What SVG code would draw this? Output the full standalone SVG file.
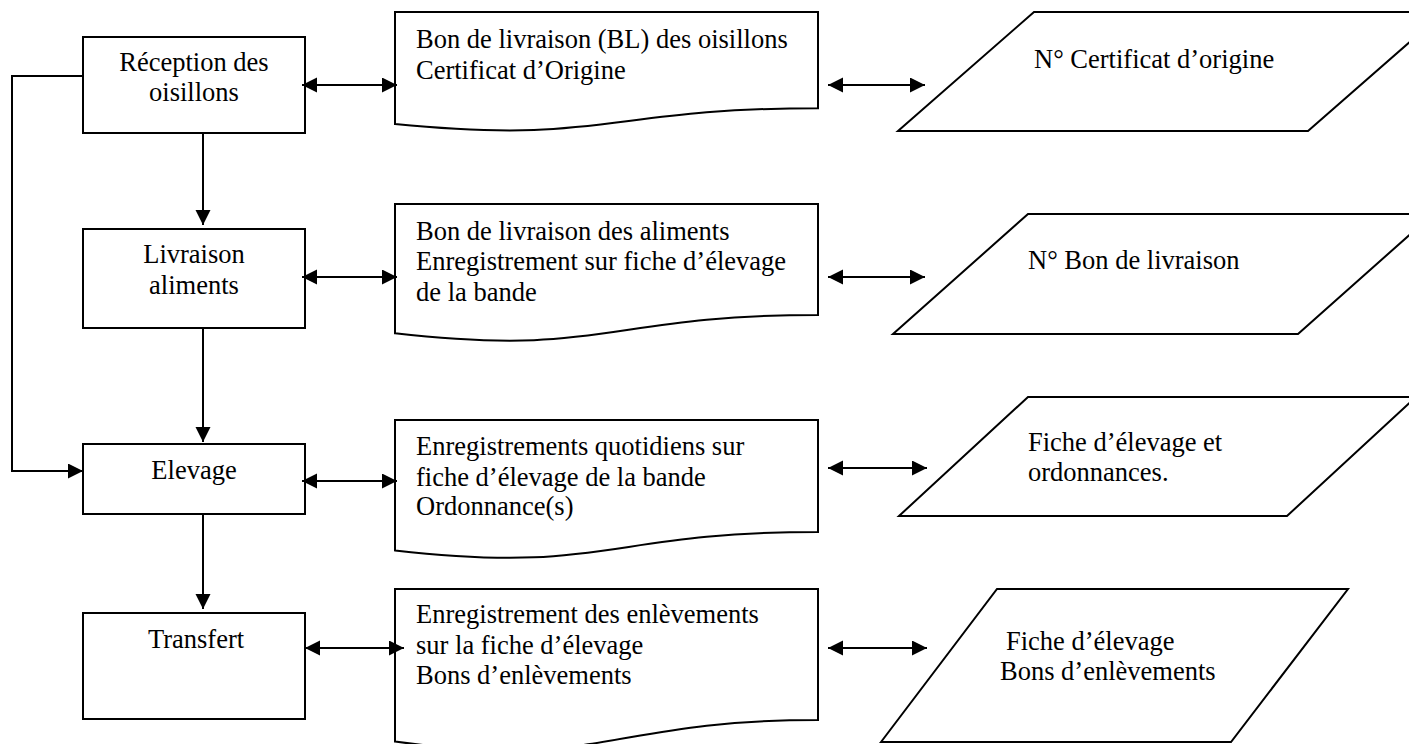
<svg xmlns="http://www.w3.org/2000/svg" width="1409" height="744" viewBox="0 0 1409 744">
<style>
.s{fill:#fff;stroke:#000;stroke-width:2}
.c{fill:none;stroke:#000;stroke-width:2}
text{font-family:"Liberation Serif","Times New Roman",serif;font-size:26.5px;fill:#000}
.m{text-anchor:middle}
</style>
<defs>
<marker id="ah" markerUnits="userSpaceOnUse" markerWidth="16" markerHeight="16" refX="15" refY="7.5" orient="auto-start-reverse">
<path d="M0,0 L15,7.5 L0,15 Z" fill="#000"/>
</marker>
</defs>
<rect width="1409" height="744" fill="#fff"/>

<g id="n-reception">
<rect class="s" x="83" y="37" width="222" height="96"/>
<text class="m" x="194" y="71">Réception des</text>
<text class="m" x="194" y="101">oisillons</text>
</g>
<g id="n-livraison">
<rect class="s" x="83" y="229" width="222" height="99"/>
<text class="m" x="194" y="263">Livraison</text>
<text class="m" x="194" y="294">aliments</text>
</g>
<g id="n-elevage">
<rect class="s" x="83" y="444" width="222" height="70"/>
<text class="m" x="194" y="479">Elevage</text>
</g>
<g id="n-transfert">
<rect class="s" x="83" y="613" width="222" height="106"/>
<text class="m" x="196" y="648">Transfert</text>
</g>

<g id="d-bl">
<path class="s" d="M395,12 H818 V108.2 C606.5,108.2 606.5,144.9 395,124.1 Z"/>
<text x="416" y="48">Bon de livraison (BL) des oisillons</text>
<text x="416" y="79">Certificat d’Origine</text>
</g>
<g id="d-aliments">
<path class="s" d="M395,204 H818 V315 C606.5,315 606.5,357.3 395,333.3 Z"/>
<text x="416" y="240">Bon de livraison des aliments</text>
<text x="416" y="270">Enregistrement sur fiche d’élevage</text>
<text x="416" y="301">de la bande</text>
</g>
<g id="d-quotidiens">
<path class="s" d="M395,420 H818 V532 C606.5,532 606.5,574.6 395,550.4 Z"/>
<text x="416" y="455">Enregistrements quotidiens sur</text>
<text x="416" y="486">fiche d’élevage de la bande</text>
<text x="416" y="515">Ordonnance(s)</text>
</g>
<g id="d-enlevements">
<path class="s" d="M395,589 H818 V720 C606.5,720 606.5,769.9 395,741.6 Z"/>
<text x="416" y="623">Enregistrement des enlèvements</text>
<text x="416" y="654">sur la fiche d’élevage</text>
<text x="416" y="684">Bons d’enlèvements</text>
</g>

<g id="p-certificat">
<path class="s" d="M898,131 L1034,12 H1444 L1308,131 Z"/>
<text x="1034" y="68">N° Certificat d’origine</text>
</g>
<g id="p-bon">
<path class="s" d="M893,334 L1028,214 H1433 L1298,334 Z"/>
<text x="1028" y="269">N° Bon de livraison</text>
</g>
<g id="p-fiche">
<path class="s" d="M899,516 L1028,397 H1416 L1287,516 Z"/>
<text x="1028" y="451">Fiche d’élevage et</text>
<text x="1028" y="481">ordonnances.</text>
</g>
<g id="p-bons">
<path class="s" d="M881,742 L997,589 H1348 L1231,742 Z"/>
<text x="1006" y="650">Fiche d’élevage</text>
<text x="1000" y="680">Bons d’enlèvements</text>
</g>

<g id="connectors">
<path class="c" d="M203,133 V225" marker-end="url(#ah)"/>
<path class="c" d="M203,328 V442" marker-end="url(#ah)"/>
<path class="c" d="M203,514 V609" marker-end="url(#ah)"/>
<path class="c" d="M83,76 H12 V471 H83" marker-end="url(#ah)"/>
<path class="c" d="M302,85 H397" marker-start="url(#ah)" marker-end="url(#ah)"/>
<path class="c" d="M302,277 H397" marker-start="url(#ah)" marker-end="url(#ah)"/>
<path class="c" d="M302,481 H397" marker-start="url(#ah)" marker-end="url(#ah)"/>
<path class="c" d="M305,648 H404" marker-start="url(#ah)" marker-end="url(#ah)"/>
<path class="c" d="M828,85 H925" marker-start="url(#ah)" marker-end="url(#ah)"/>
<path class="c" d="M828,277 H925" marker-start="url(#ah)" marker-end="url(#ah)"/>
<path class="c" d="M828,468 H927" marker-start="url(#ah)" marker-end="url(#ah)"/>
<path class="c" d="M828,648 H927" marker-start="url(#ah)" marker-end="url(#ah)"/>
</g>
</svg>
